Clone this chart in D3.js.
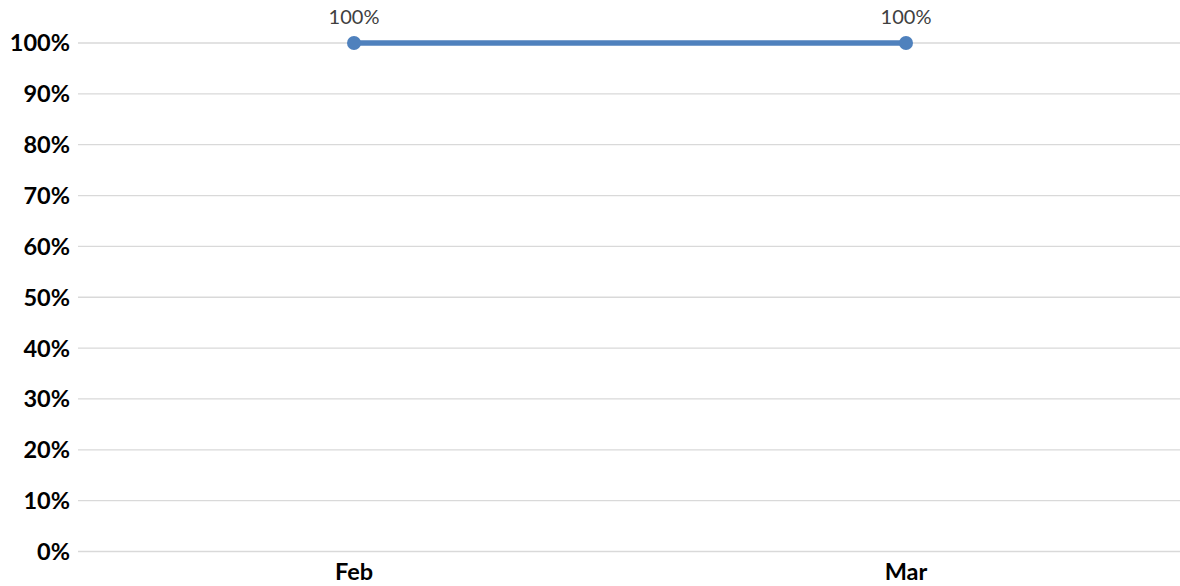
<!DOCTYPE html>
<html><head><meta charset="utf-8">
<script src="https://cdn.jsdelivr.net/npm/d3@7"></script>
<style>body{margin:0;background:#fff}svg{display:block}</style>
</head><body>
<svg id="c" width="1180" height="586"></svg>
<script>
const categories = ["Feb", "Mar"];
const values = [1.0, 1.0];
const yTicks = [0,0.1,0.2,0.3,0.4,0.5,0.6,0.7,0.8,0.9,1.0];

const svg = d3.select("#c");
const x = d3.scalePoint().domain(categories).range([78, 1182]).padding(0.5);
const y = d3.scaleLinear().domain([0, 1]).range([551.5, 43]);
const fmt = d3.format(".0%");

const grid = svg.append("g");
grid.selectAll("line").data(yTicks).join("line")
  .attr("x1", 78).attr("x2", 1180)
  .attr("y1", d => y(d)).attr("y2", d => y(d))
  .attr("stroke", "#d9d9d9").attr("stroke-width", 1.3);

svg.append("g").selectAll("text").data(yTicks).join("text")
  .attr("x", 70).attr("y", d => y(d)).attr("dy", "0.36em")
  .attr("text-anchor", "end")
  .attr("font-family", "Lato, sans-serif").attr("font-weight", "bold")
  .attr("font-size", 23.5).attr("fill", "#000")
  .text(d => fmt(d));

svg.append("g").selectAll("text").data(categories).join("text")
  .attr("x", d => x(d)).attr("y", 580)
  .attr("text-anchor", "middle")
  .attr("font-family", "Lato, sans-serif").attr("font-weight", "bold")
  .attr("font-size", 23.5).attr("fill", "#000")
  .text(d => d);

const data = categories.map((c, i) => ({c, v: values[i]}));
svg.append("path").datum(data)
  .attr("fill", "none").attr("stroke", "#4f81bd").attr("stroke-width", 5.5)
  .attr("d", d3.line().x(d => x(d.c)).y(d => y(d.v)));

svg.append("g").selectAll("circle").data(data).join("circle")
  .attr("cx", d => x(d.c)).attr("cy", d => y(d.v)).attr("r", 7)
  .attr("fill", "#4f81bd");

svg.append("g").selectAll("text").data(data).join("text")
  .attr("x", d => x(d.c)).attr("y", 23.5)
  .attr("text-anchor", "middle")
  .attr("font-family", "Lato, sans-serif")
  .attr("font-size", 20).attr("fill", "#404040")
  .text(d => fmt(d.v));
</script>
</body></html>
